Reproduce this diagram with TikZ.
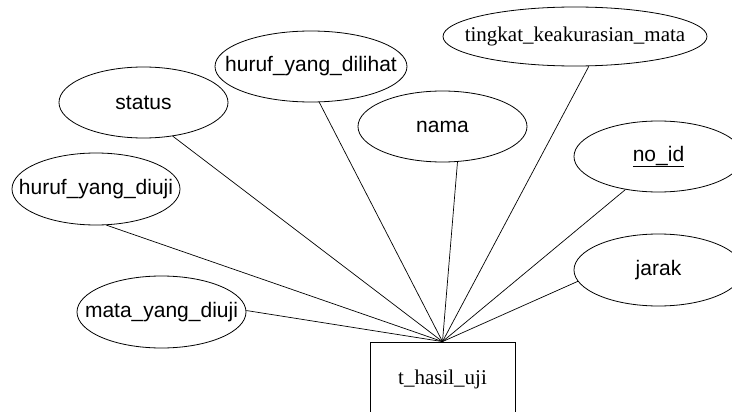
\documentclass[tikz,border=0pt]{standalone}
\usepackage{fontspec}
\setmainfont{Liberation Serif}
\setsansfont{Liberation Sans}
\usetikzlibrary{shapes.geometric}

\tikzset{
  attr/.style={draw, ellipse, line width=0.8pt, inner sep=0pt,
    label={[font=\sffamily\fontsize{21}{25}\selectfont]center:#1}},
  attrserif/.style={draw, ellipse, line width=0.8pt, inner sep=0pt,
    label={[font=\rmfamily\fontsize{21}{25}\selectfont]center:#1}},
  entity/.style={draw, rectangle, line width=0.8pt, inner sep=0pt,
    minimum width=145pt, minimum height=74pt,
    font=\rmfamily\fontsize{21}{25}\selectfont},
  link/.style={line width=0.7pt}
}

\begin{document}
\begin{tikzpicture}[x=1pt, y=-1pt]
  \useasboundingbox (0,0) rectangle (732,412);

  % entity
  \node[entity] (ent) at (442.5,379) {t\_hasil\_uji};

  % attributes
  \node[attr={status}, minimum width=169pt, minimum height=71pt] (status) at (143.5,102.5) {};
  \node[attr={huruf\_yang\_dilihat}, minimum width=192pt, minimum height=71pt] (dilihat) at (311,66.5) {};
  \node[attr={huruf\_yang\_diuji}, minimum width=168pt, minimum height=72pt] (diuji) at (96,189) {};
  \node[attr={nama}, minimum width=169pt, minimum height=71pt] (nama) at (442.5,126.5) {};
  \node[attrserif={tingkat\_keakurasian\_mata}, minimum width=264pt, minimum height=59pt] (akurasi) at (575,36.5) {};
  \node[attr={\underline{no\_id}}, minimum width=169pt, minimum height=71pt] (noid) at (658.5,156.5) {};
  \node[attr={jarak}, minimum width=169pt, minimum height=72pt] (jarak) at (658.5,270) {};
  \node[attr={mata\_yang\_diuji}, minimum width=169pt, minimum height=72pt] (mata) at (161.5,312) {};

  % connectors to the entity
  \draw[link] (status.-49.5)  -- (ent.north);
  \draw[link] (dilihat.-77.4) -- (ent.north);
  \draw[link] (diuji.-74.5)   -- (ent.north);
  \draw[link] (nama.-67.2)    -- (ent.north);
  \draw[link] (akurasi.-65.5) -- (ent.north);
  \draw[link] (noid.-135.6)   -- (ent.north);
  \draw[link] (jarak.-172.2)  -- (ent.north);
  \draw[link] (mata.1.4)      -- (ent.north);
\end{tikzpicture}
\end{document}
